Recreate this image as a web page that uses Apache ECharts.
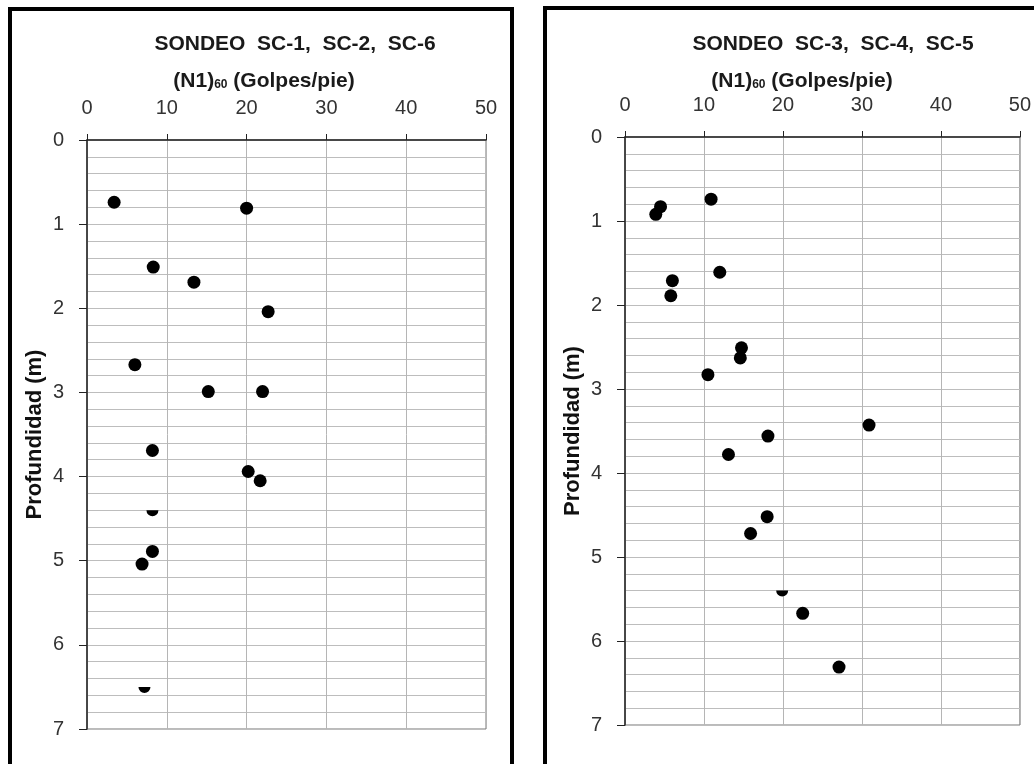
<!DOCTYPE html>
<html>
<head>
<meta charset="utf-8">
<script src="https://cdn.jsdelivr.net/npm/echarts@6/dist/echarts.min.js"></script>
<style>
html, body { margin: 0; padding: 0; background: #fff; }
#chart { width: 1034px; height: 764px; }
</style>
</head>
<body>
<div id="chart"></div>
<script>
// (N1)60, profundidad (m)
var titles = ['SONDEO  SC-1,  SC-2,  SC-6', 'SONDEO  SC-3,  SC-4,  SC-5'];
var xTicks = [0, 10, 20, 30, 40, 50];
var yTicks = [0, 1, 2, 3, 4, 5, 6, 7];

var sc126 = [
	[3.4, 0.74], [20.0, 0.81], [8.3, 1.51], [13.4, 1.69], [22.7, 2.04],
	[6.0, 2.67], [15.2, 2.99], [22.0, 2.99], [8.2, 3.69], [20.2, 3.94],
	[21.7, 4.05], [8.2, 4.89], [6.9, 5.04]
];
// puntos que salen cortados (medio punto)
var sc126Half = [[8.2, 4.40], [7.2, 6.50]];

var sc345 = [
	[10.9, 0.74], [4.5, 0.83], [3.9, 0.92], [12.0, 1.61], [6.0, 1.71],
	[5.8, 1.89], [14.75, 2.51], [14.6, 2.63], [10.5, 2.83], [30.9, 3.43],
	[18.1, 3.56], [13.1, 3.78], [18.0, 4.52], [15.9, 4.72], [22.5, 5.67],
	[27.1, 6.31]
];
var sc345Half = [[19.9, 5.40]];

var fontFam = '"Liberation Sans", Arial, sans-serif';
var halfDot = 'path://M0,0 L12,0 A6,6 0 0 1 0,0 Z';

function makeX(idx) {
	return {
		gridIndex: idx, type: 'value', position: 'top',
		min: xTicks[0], max: xTicks[xTicks.length - 1], interval: 10,
		axisLine: { show: true, onZero: false, lineStyle: { color: '#222', width: 1.5 } },
		axisTick: { show: true, length: 6, lineStyle: { color: '#222' } },
		axisLabel: { margin: 22, color: '#333', fontSize: 20, fontFamily: fontFam },
		splitLine: { show: true, lineStyle: { color: '#b5b5b5', width: 1 } }
	};
}
function makeY(idx) {
	return {
		gridIndex: idx, type: 'value', inverse: true,
		min: yTicks[0], max: yTicks[yTicks.length - 1], interval: 1,
		name: 'Profundidad (m)', nameLocation: 'middle', nameGap: 41, nameRotate: 90,
		nameTextStyle: { color: '#111', fontSize: 22, fontWeight: 'bold', fontFamily: fontFam },
		axisLine: { show: true, onZero: false, lineStyle: { color: '#222', width: 1.5 } },
		axisTick: { show: true, length: 8, lineStyle: { color: '#222' } },
		axisLabel: { margin: 23, color: '#333', fontSize: 20, fontFamily: fontFam },
		splitLine: { show: true, lineStyle: { color: '#bdbdbd', width: 1 } },
		minorTick: { show: false, splitNumber: 5 },
		minorSplitLine: { show: true, lineStyle: { color: '#bdbdbd', width: 1 } }
	};
}
function makeTitle(txt, cx, top) {
	return [
		{
			text: txt, left: cx, top: top, textAlign: 'center',
			textStyle: { color: '#1a1a1a', fontSize: 21, fontWeight: 'bold', fontFamily: fontFam }
		},
		{
			text: '{a|(N1)}{b|60}{a| (Golpes/pie)}', left: cx - 31, top: top + 37, textAlign: 'center',
			textStyle: {
				rich: {
					a: { color: '#1a1a1a', fontSize: 21, fontWeight: 'bold', fontFamily: fontFam },
					b: { color: '#1a1a1a', fontSize: 12, fontWeight: 'bold', fontFamily: fontFam, padding: [6, 0, 0, 0] }
				}
			}
		}
	];
}

var dotStyle = { color: '#000', opacity: 1 };

var chart = echarts.init(document.getElementById('chart'));
var option = {
	animation: false,
	backgroundColor: '#fff',
	title: makeTitle(titles[0], 290, 29).concat(makeTitle(titles[1], 828, 29)),
	grid: [
		{ left: 87, top: 140, width: 399, height: 589, show: true, borderColor: '#777', borderWidth: 1 },
		{ left: 625, top: 137, width: 398, height: 588, show: true, borderColor: '#777', borderWidth: 1 }
	],
	xAxis: [makeX(0), makeX(1)],
	yAxis: [makeY(0), makeY(1)],
	series: [
		{ type: 'scatter', xAxisIndex: 0, yAxisIndex: 0, data: sc126, symbolSize: 13, itemStyle: dotStyle },
		{ type: 'scatter', xAxisIndex: 0, yAxisIndex: 0, data: sc126Half, symbol: halfDot, symbolSize: [12, 6], symbolOffset: [0, 3], itemStyle: dotStyle },
		{ type: 'scatter', xAxisIndex: 1, yAxisIndex: 1, data: sc345, symbolSize: 13, itemStyle: dotStyle },
		{ type: 'scatter', xAxisIndex: 1, yAxisIndex: 1, data: sc345Half, symbol: halfDot, symbolSize: [12, 6], symbolOffset: [0, 3], itemStyle: dotStyle }
	],
	graphic: [
		{ type: 'rect', shape: { x: 10, y: 9, width: 502, height: 800 }, style: { fill: 'none', stroke: '#000', lineWidth: 4 }, silent: true },
		{ type: 'rect', shape: { x: 545, y: 8, width: 600, height: 800 }, style: { fill: 'none', stroke: '#000', lineWidth: 4 }, silent: true }
	]
};
chart.setOption(option);
</script>
</body>
</html>
